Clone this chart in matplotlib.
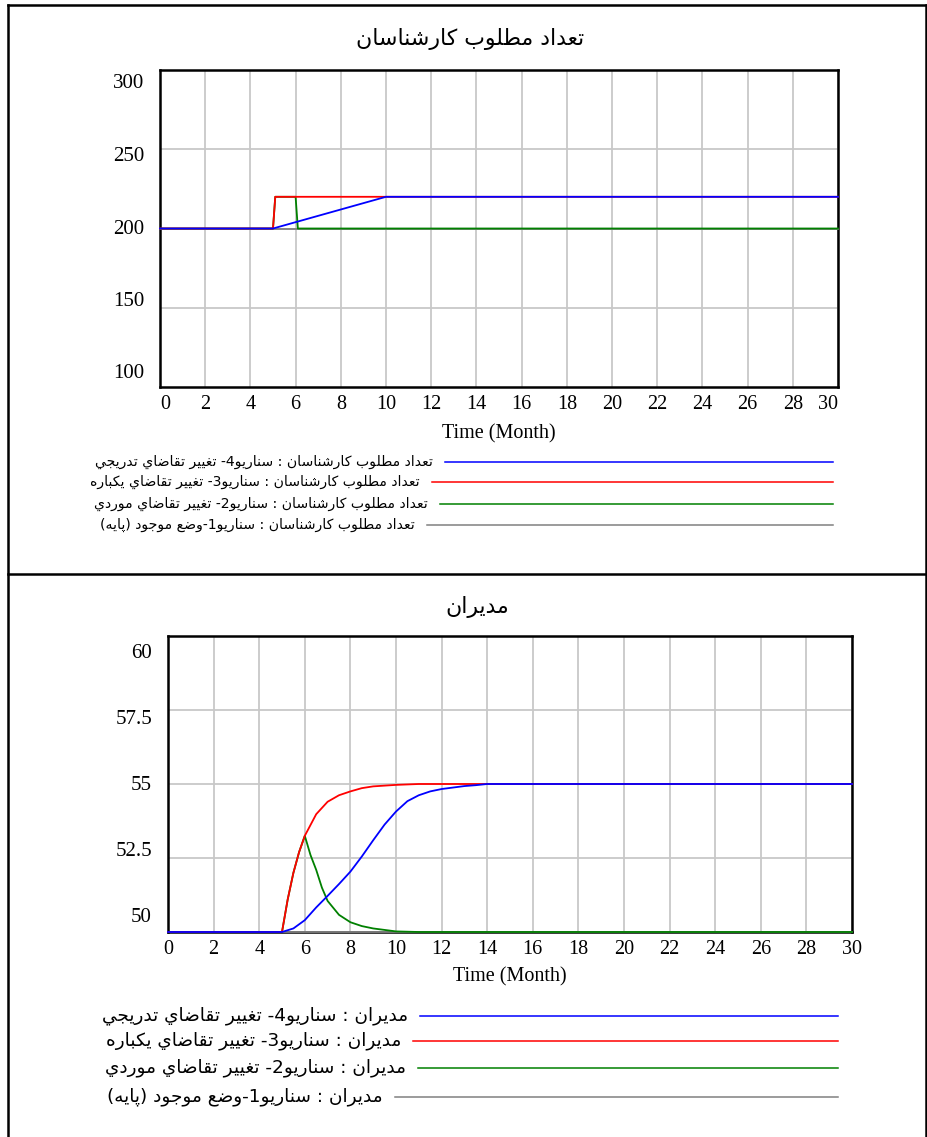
import re
import matplotlib
matplotlib.use("Agg")
import matplotlib.pyplot as plt
from matplotlib.lines import Line2D

# ---- data ----
months_ticks = list(range(0, 31, 2))

# chart 1: "تعداد مطلوب كارشناسان"
exp_y_ticks = [100, 150, 200, 250, 300]
exp_base_t = [0, 30]
exp_base_v = [200, 200]
exp_s2_t = [0, 5, 5.1, 6.0, 6.1, 30]
exp_s2_v = [200, 200, 220, 220, 200, 200]
exp_s3_t = [0, 5, 5.1, 30]
exp_s3_v = [200, 200, 220, 220]
exp_s4_t = [0, 5, 10, 30]
exp_s4_v = [200, 200, 220, 220]

# chart 2: "مديران"
mgr_y_ticks = [50, 52.5, 55, 57.5, 60]
mgr_y_labels = ["50", "52.5", "55", "57.5", "60"]
mgr_base_t = [0, 30]
mgr_base_v = [50, 50]
mgr_s2_t = [0, 5, 5.25, 5.5, 5.75, 6, 6.25, 6.5, 6.75, 7, 7.5, 8, 8.5, 9, 9.5, 10, 11, 30]
mgr_s2_v = [50, 50, 51.1, 52.0, 52.7, 53.25, 52.6, 52.1, 51.5, 51.05, 50.58, 50.33, 50.2, 50.12, 50.07, 50.02, 50.0, 50.0]
mgr_s3_t = [0, 5, 5.25, 5.5, 5.75, 6, 6.5, 7, 7.5, 8, 8.5, 9, 10, 11, 30]
mgr_s3_v = [50, 50, 51.1, 52.0, 52.7, 53.25, 53.98, 54.4, 54.62, 54.75, 54.86, 54.92, 54.97, 55.0, 55.0]
mgr_s4_t = [0, 5, 5.5, 6, 6.5, 7, 7.5, 8, 8.5, 9, 9.5, 10, 10.5, 11, 11.5, 12, 12.5, 13, 13.5, 14, 30]
mgr_s4_v = [50, 50, 50.12, 50.4, 50.83, 51.22, 51.62, 52.04, 52.55, 53.1, 53.63, 54.07, 54.42, 54.62, 54.75, 54.83, 54.88, 54.93, 54.96, 55.0, 55.0]

title_exp = "تعداد مطلوب كارشناسان"
title_mgr = "مديران"
legend_exp = [
    "تعداد مطلوب كارشناسان : سناريو4- تغيير تقاضاي تدريجي",
    "تعداد مطلوب كارشناسان : سناريو3- تغيير تقاضاي يكباره",
    "تعداد مطلوب كارشناسان : سناريو2- تغيير تقاضاي موردي",
    "تعداد مطلوب كارشناسان : سناريو1-وضع موجود (پايه)",
]
legend_mgr = [
    "مديران : سناريو4- تغيير تقاضاي تدريجي",
    "مديران : سناريو3- تغيير تقاضاي يكباره",
    "مديران : سناريو2- تغيير تقاضاي موردي",
    "مديران : سناريو1-وضع موجود (پايه)",
]

BLUE, RED, GREEN, GRAY = "#0000ff", "#ff0000", "#008000", "#808080"

# ---- minimal arabic shaping (matplotlib has no RTL support) ----
RIGHT_JOIN = set("اآأإدذرزوژة")
FORMS = {
    "ا": (0xFE8D, 0xFE8E, None, None),
    "ب": (0xFE8F, 0xFE90, 0xFE91, 0xFE92),
    "پ": (0xFB56, 0xFB57, 0xFB58, 0xFB59),
    "ت": (0xFE95, 0xFE96, 0xFE97, 0xFE98),
    "ج": (0xFE9D, 0xFE9E, 0xFE9F, 0xFEA0),
    "د": (0xFEA9, 0xFEAA, None, None),
    "ر": (0xFEAD, 0xFEAE, None, None),
    "س": (0xFEB1, 0xFEB2, 0xFEB3, 0xFEB4),
    "ش": (0xFEB5, 0xFEB6, 0xFEB7, 0xFEB8),
    "ض": (0xFEBD, 0xFEBE, 0xFEBF, 0xFEC0),
    "ط": (0xFEC1, 0xFEC2, 0xFEC3, 0xFEC4),
    "ع": (0xFEC9, 0xFECA, 0xFECB, 0xFECC),
    "غ": (0xFECD, 0xFECE, 0xFECF, 0xFED0),
    "ق": (0xFED5, 0xFED6, 0xFED7, 0xFED8),
    "ك": (0xFED9, 0xFEDA, 0xFEDB, 0xFEDC),
    "ل": (0xFEDD, 0xFEDE, 0xFEDF, 0xFEE0),
    "م": (0xFEE1, 0xFEE2, 0xFEE3, 0xFEE4),
    "ن": (0xFEE5, 0xFEE6, 0xFEE7, 0xFEE8),
    "ه": (0xFEE9, 0xFEEA, 0xFEEB, 0xFEEC),
    "و": (0xFEED, 0xFEEE, None, None),
    "ي": (0xFEF1, 0xFEF2, 0xFEF3, 0xFEF4),
}


def rtl(s):
    dual = lambda c: c in FORMS and c not in RIGHT_JOIN
    out = []
    for i, c in enumerate(s):
        if c not in FORMS:
            out.append(c)
            continue
        prev = s[i - 1] if i > 0 else ""
        nxt = s[i + 1] if i + 1 < len(s) else ""
        jp = dual(prev)
        jn = dual(c) and nxt in FORMS
        iso, fin, ini, med = FORMS[c]
        if jp and jn:
            cp = med
        elif jp:
            cp = fin
        elif jn:
            cp = ini
        else:
            cp = iso
        out.append(chr(cp))
    vis = "".join(reversed(out))
    vis = re.sub(r"[0-9]+", lambda m: m.group(0)[::-1], vis)
    return vis.translate(str.maketrans("()", ")("))


AR_FONT = ["DejaVu Sans"]
SERIF = ["Liberation Serif", "DejaVu Serif"]

W, H = 928, 1137
fig = plt.figure(figsize=(W / 100, H / 100), dpi=100)


def fx(px):
    return px / W


def fy(py):
    return 1 - py / H


def axes_box(left, top, right, bottom):
    return [fx(left), fy(bottom), fx(right) - fx(left), (bottom - top) / H]


def setup(ax, ylim, yticks, ylabels, box, top_inset, bot_inset, ends_inset):
    left, top, right, bottom = box
    ax.set_xlim(0, 30)
    ax.set_ylim(*ylim)
    ax.set_xticks(months_ticks)
    ax.set_xticklabels([str(m) for m in months_ticks], fontsize=14.5, family=SERIF)
    ax.tick_params(axis="x", length=0, pad=6)
    if ends_inset:
        labs = ax.get_xticklabels()
        labs[0].set_ha("left")
        labs[-1].set_ha("right")
    ax.set_yticks(yticks[1:-1])
    ax.set_yticklabels([])
    ax.tick_params(axis="y", length=0)
    ax.grid(True, color="#c8c8c8", linewidth=1.3)
    ax.set_axisbelow(True)
    for sp in ax.spines.values():
        sp.set_linewidth(1.8)
        sp.set_color("black")
    # vensim places value labels evenly between two inset positions
    h = bottom - top
    hi = 1 - top_inset / h
    lo = bot_inset / h
    n = len(ylabels)
    for i, lab in enumerate(ylabels):
        yy = lo + (hi - lo) * i / (n - 1)
        ax.text(-16 / (right - left), yy, lab, transform=ax.transAxes,
                ha="right", va="center", fontsize=15, family=SERIF)


def draw_legend(texts, colors, ys, starts, end, fs):
    for txt, col, y, x0 in zip(texts, colors, ys, starts):
        fig.add_artist(Line2D([fx(x0), fx(end)], [fy(y), fy(y)], color=col, linewidth=1.1))
        fig.text(fx(x0 - 12), fy(y), rtl(txt), ha="right", va="center",
                 fontsize=fs, family=AR_FONT)


# ---- chart 1 ----
box1 = (160, 70, 838, 387)
ax1 = fig.add_axes(axes_box(*box1))
setup(ax1, (100, 300), exp_y_ticks, [str(v) for v in exp_y_ticks], box1, 14, 13, True)
kw = dict(linewidth=1.3, clip_on=False, zorder=3)
ax1.plot(exp_base_t, exp_base_v, color=GRAY, **kw)
ax1.plot(exp_s2_t, exp_s2_v, color=GREEN, **kw)
ax1.plot(exp_s3_t, exp_s3_v, color=RED, **kw)
ax1.plot(exp_s4_t, exp_s4_v, color=BLUE, **kw)
ax1.text(0.5, (387 - 434) / 317, "Time (Month)", transform=ax1.transAxes,
         ha="center", va="center", fontsize=14.5, family=SERIF)
fig.text(fx(470), fy(39), rtl(title_exp), ha="center", va="center", fontsize=15.8, family=AR_FONT)
draw_legend(legend_exp, [BLUE, RED, GREEN, GRAY], [462, 482, 504, 525],
            [445, 432, 440, 427], 833, 10.1)

# ---- chart 2 ----
box2 = (168, 636, 852, 932)
ax2 = fig.add_axes(axes_box(*box2))
setup(ax2, (50, 60), mgr_y_ticks, mgr_y_labels, box2, 18, 15, False)
ax2.plot(mgr_base_t, mgr_base_v, color=GRAY, **kw)
ax2.plot(mgr_s2_t, mgr_s2_v, color=GREEN, **kw)
ax2.plot(mgr_s3_t, mgr_s3_v, color=RED, **kw)
ax2.plot(mgr_s4_t, mgr_s4_v, color=BLUE, **kw)
ax2.text(0.5, (932 - 977) / 296, "Time (Month)", transform=ax2.transAxes,
         ha="center", va="center", fontsize=14.5, family=SERIF)
fig.text(fx(477), fy(607), rtl(title_mgr), ha="center", va="center", fontsize=15.8, family=AR_FONT)
draw_legend(legend_mgr, [BLUE, RED, GREEN, GRAY], [1016, 1041, 1068, 1097],
            [420, 413, 418, 395], 838, 13.3)

# ---- panel frames ----
frame = dict(color="black", linewidth=1.8)
fig.add_artist(Line2D([fx(8), fx(8)], [fy(5), 0], **frame))
fig.add_artist(Line2D([fx(8), fx(926)], [fy(5), fy(5)], **frame))
fig.add_artist(Line2D([fx(926), fx(926)], [fy(5), 0], **frame))
fig.add_artist(Line2D([fx(8), fx(926)], [fy(574), fy(574)], **frame))

fig.savefig("out.png", dpi=100)
